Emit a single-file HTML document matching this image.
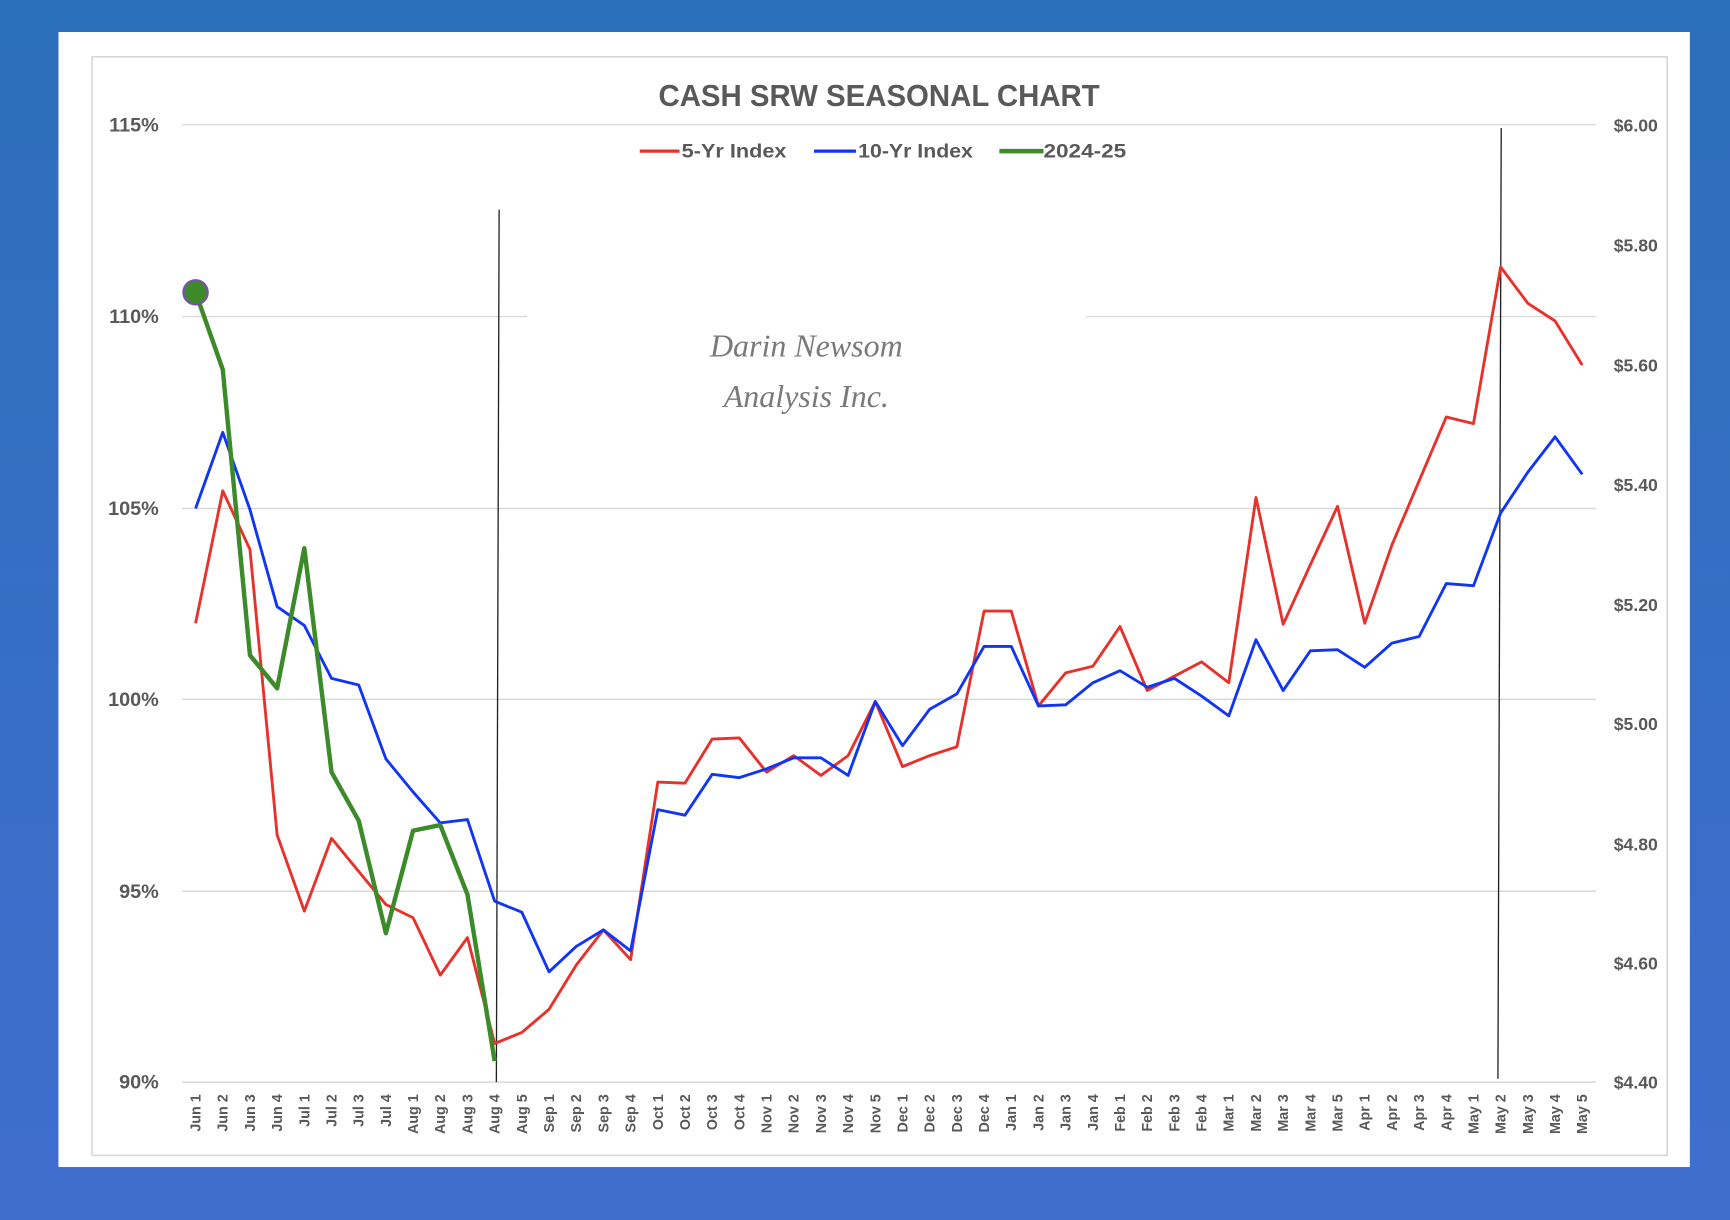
<!DOCTYPE html>
<html><head><meta charset="utf-8"><style>
html,body{margin:0;padding:0;width:1730px;height:1220px;overflow:hidden;background:#3a6fc9}
svg{display:block}
text{font-family:"Liberation Sans",sans-serif}
</style></head><body>
<svg id="s" width="1730" height="1220" viewBox="0 0 1568.4 1106" xmlns="http://www.w3.org/2000/svg">
<defs><linearGradient id="bg" x1="0" y1="0" x2="0" y2="1"><stop offset="0" stop-color="#2c6fba"/><stop offset="1" stop-color="#406ecf"/></linearGradient></defs>
<rect x="0" y="0" width="1568.4" height="1106" fill="url(#bg)"/>
<rect x="53" y="29" width="1479" height="1029" fill="#fff"/>
<rect x="83.5" y="51.5" width="1428" height="996" fill="none" stroke="#d9d9d9" stroke-width="1.5"/>
<g stroke="#d9d9d9" stroke-width="1.3">
<line x1="165" x2="1447" y1="113" y2="113"/>
<line x1="165" x2="478" y1="287" y2="287"/>
<line x1="985" x2="1447" y1="287" y2="287"/>
<line x1="165" x2="1447" y1="461" y2="461"/>
<line x1="165" x2="1447" y1="634" y2="634"/>
<line x1="165" x2="1447" y1="808" y2="808"/>
<line x1="165" x2="1447" y1="981" y2="981"/>
</g>
<text x="797" y="96" text-anchor="middle" font-size="28" font-weight="bold" fill="#595959" textLength="400" lengthAdjust="spacingAndGlyphs">CASH SRW SEASONAL CHART</text>
<g font-size="18" font-weight="bold" fill="#595959">
<line x1="580" x2="616" y1="137" y2="137" stroke="#e8312a" stroke-width="3"/>
<text x="618" y="143" textLength="95" lengthAdjust="spacingAndGlyphs">5-Yr Index</text>
<line x1="738" x2="776" y1="137" y2="137" stroke="#1035f5" stroke-width="3"/>
<text x="778" y="143" textLength="104" lengthAdjust="spacingAndGlyphs">10-Yr Index</text>
<line x1="906" x2="946" y1="137" y2="137" stroke="#3c8a2a" stroke-width="4"/>
<text x="946" y="143" textLength="75" lengthAdjust="spacingAndGlyphs">2024-25</text>
</g>
<g font-size="18" font-weight="bold" fill="#595959" text-anchor="end">
<text x="144" y="119">115%</text><text x="144" y="293">110%</text><text x="144" y="467">105%</text>
<text x="144" y="640">100%</text><text x="144" y="814">95%</text><text x="144" y="987">90%</text>
</g>
<g font-size="16" font-weight="bold" fill="#595959">
<text x="1463" y="119">$6.00</text><text x="1463" y="228">$5.80</text><text x="1463" y="337">$5.60</text>
<text x="1463" y="445">$5.40</text><text x="1463" y="554">$5.20</text><text x="1463" y="662">$5.00</text>
<text x="1463" y="771">$4.80</text><text x="1463" y="879">$4.60</text><text x="1463" y="987">$4.40</text>
</g>
<g font-family="Liberation Serif,serif" font-style="italic" font-size="29" fill="#7a7a7a" text-anchor="middle">
<text x="731" y="323" style="font-family:'Liberation Serif',serif">Darin Newsom</text>
<text x="731" y="369" style="font-family:'Liberation Serif',serif">Analysis Inc.</text>
</g>
<g id="xl" font-size="13" font-weight="bold" fill="#595959"></g>
<g id="lines"></g>
</svg>
<script>
var labs="Jun 1,Jun 2,Jun 3,Jun 4,Jul 1,Jul 2,Jul 3,Jul 4,Aug 1,Aug 2,Aug 3,Aug 4,Aug 5,Sep 1,Sep 2,Sep 3,Sep 4,Oct 1,Oct 2,Oct 3,Oct 4,Nov 1,Nov 2,Nov 3,Nov 4,Nov 5,Dec 1,Dec 2,Dec 3,Dec 4,Jan 1,Jan 2,Jan 3,Jan 4,Feb 1,Feb 2,Feb 3,Feb 4,Mar 1,Mar 2,Mar 3,Mar 4,Mar 5,Apr 1,Apr 2,Apr 3,Apr 4,May 1,May 2,May 3,May 4,May 5".split(",");
function X(i){return 177.3+i*24.65;}
var NS="http://www.w3.org/2000/svg",xl=document.getElementById("xl"),g=document.getElementById("lines");
labs.forEach(function(l,i){var t=document.createElementNS(NS,"text");t.setAttribute("transform","translate("+(X(i)+4.5)+",992) rotate(-90)");t.setAttribute("text-anchor","end");t.textContent=l;xl.appendChild(t);});
function ln(x1,y1,x2,y2){var e=document.createElementNS(NS,"line");e.setAttribute("x1",x1);e.setAttribute("y1",y1);e.setAttribute("x2",x2);e.setAttribute("y2",y2);e.setAttribute("stroke","#222");e.setAttribute("stroke-width","1.2");g.appendChild(e);}
ln(452.5,190,450,981);ln(1361,116,1358,978);
var red=[565,445,498,757,826,760,790,820,832,884,850,946,936,915,875,843,870,709,710,670,669,700,685,703,685,636,695,685,677,554,554,640,610,604,568,626,613,600,619,451,566,512,459,565,494,436,378,384,242,275,291,331];
var blue=[461,392,462,550,567,615,621,688,718,746,743,817,827,881,858,843,862,734,739,702,705,697,687,687,703,636,676,643,629,586,586,640,639,619,608,623,615,631,649,580,626,590,589,605,583,577,529,531,465,428,396,430];
var green=[265,335,594,624,497,700,744,846,753,748,811,962];
function pl(d,c,w){var e=document.createElementNS(NS,"polyline");e.setAttribute("points",d.map(function(y,i){return X(i)+","+y}).join(" "));e.setAttribute("fill","none");e.setAttribute("stroke",c);e.setAttribute("stroke-width",w);e.setAttribute("stroke-linejoin","round");g.appendChild(e);}
pl(red,"#e8312a",2.6);pl(blue,"#1035f5",2.6);pl(green,"#3c8a2a",4);
var c=document.createElementNS(NS,"circle");c.setAttribute("cx",X(0));c.setAttribute("cy",265);c.setAttribute("r",11);c.setAttribute("fill","#3c8a2a");c.setAttribute("stroke","#7a4fb0");c.setAttribute("stroke-width","2");g.appendChild(c);
</script>
</body></html>
